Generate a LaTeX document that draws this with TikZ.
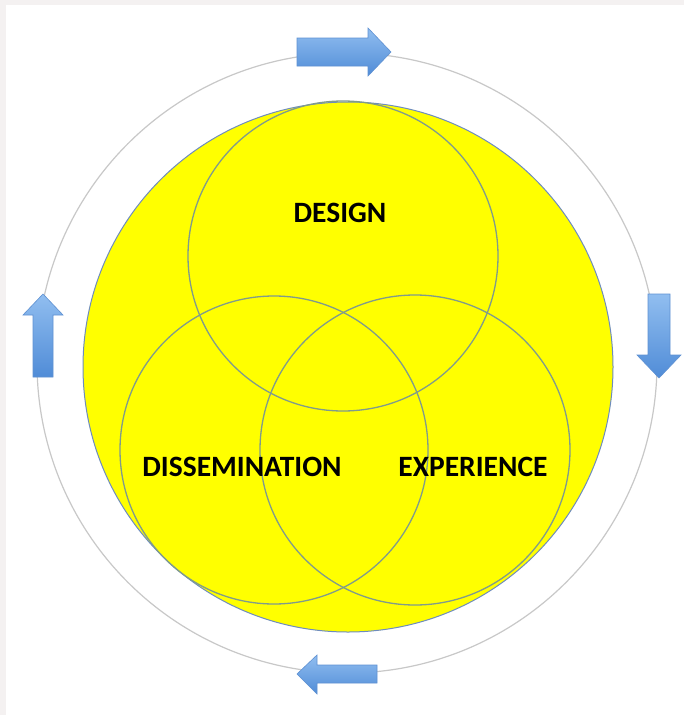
\documentclass[tikz,border=0pt]{standalone}
\usepackage{fontspec}
\setmainfont{Carlito}
\definecolor{yel}{RGB}{255,255,0}
\definecolor{bigedge}{RGB}{110,140,190}
\definecolor{setedge}{RGB}{128,155,140}
\definecolor{ringc}{RGB}{200,200,200}
\definecolor{arrtop}{RGB}{145,190,240}
\definecolor{arrbot}{RGB}{80,140,215}
\definecolor{arredge}{RGB}{95,145,210}
\definecolor{framec}{RGB}{244,241,241}
\begin{document}
\begin{tikzpicture}[x=1pt,y=-1pt,
  ring/.style={draw=ringc, line width=1.2pt},
  bigdisc/.style={circle, fill=yel, draw=bigedge, line width=1pt, inner sep=0pt},
  setdisc/.style={circle, draw=setedge, line width=1.3pt, inner sep=0pt},
  lbl/.style={font=\bfseries\fontsize{29.5}{34}\selectfont, text=black, inner sep=0pt},
  blk/.style={draw=arredge, line width=0.6pt, top color=arrtop, bottom color=arrbot, line join=miter}
]
\useasboundingbox (0,0) rectangle (684,715);
\fill[white] (0,0) rectangle (684,715);
\fill[framec] (0,0) rectangle (684,5);
\fill[framec] (0,0) rectangle (6,715);

\draw[ring] (347,363) circle[radius=310];
\node[bigdisc, minimum size=530pt] (big) at (348,367) {};
\node[setdisc, minimum size=310pt] (design) at (343,256) {};
\node[setdisc, minimum size=308pt] (diss) at (274,450) {};
\node[setdisc, minimum size=310pt] (exp) at (415,450) {};

\node[lbl] (tdesign) at (340,213) {DESIGN};
\node[lbl] (tdiss) at (242,467) {DISSEMINATION};
\node[lbl] (texp) at (473,467) {EXPERIENCE};

% top arrow (right)
\path[blk] (297,38) -- (368,38) -- (368,28) -- (391,52) -- (368,76) -- (368,66) -- (297,66) -- cycle;
% right arrow (down)
\path[blk] (648,294) -- (670,294) -- (670,355) -- (681,355) -- (659,378) -- (637,355) -- (648,355) -- cycle;
% left arrow (up)
\path[blk] (33,377) -- (53,377) -- (53,315) -- (63,315) -- (43,294) -- (23,315) -- (33,315) -- cycle;
% bottom arrow (left)
\path[blk] (377,665) -- (317,665) -- (317,655) -- (297,674) -- (317,694) -- (317,683) -- (377,683) -- cycle;
\end{tikzpicture}
\end{document}
